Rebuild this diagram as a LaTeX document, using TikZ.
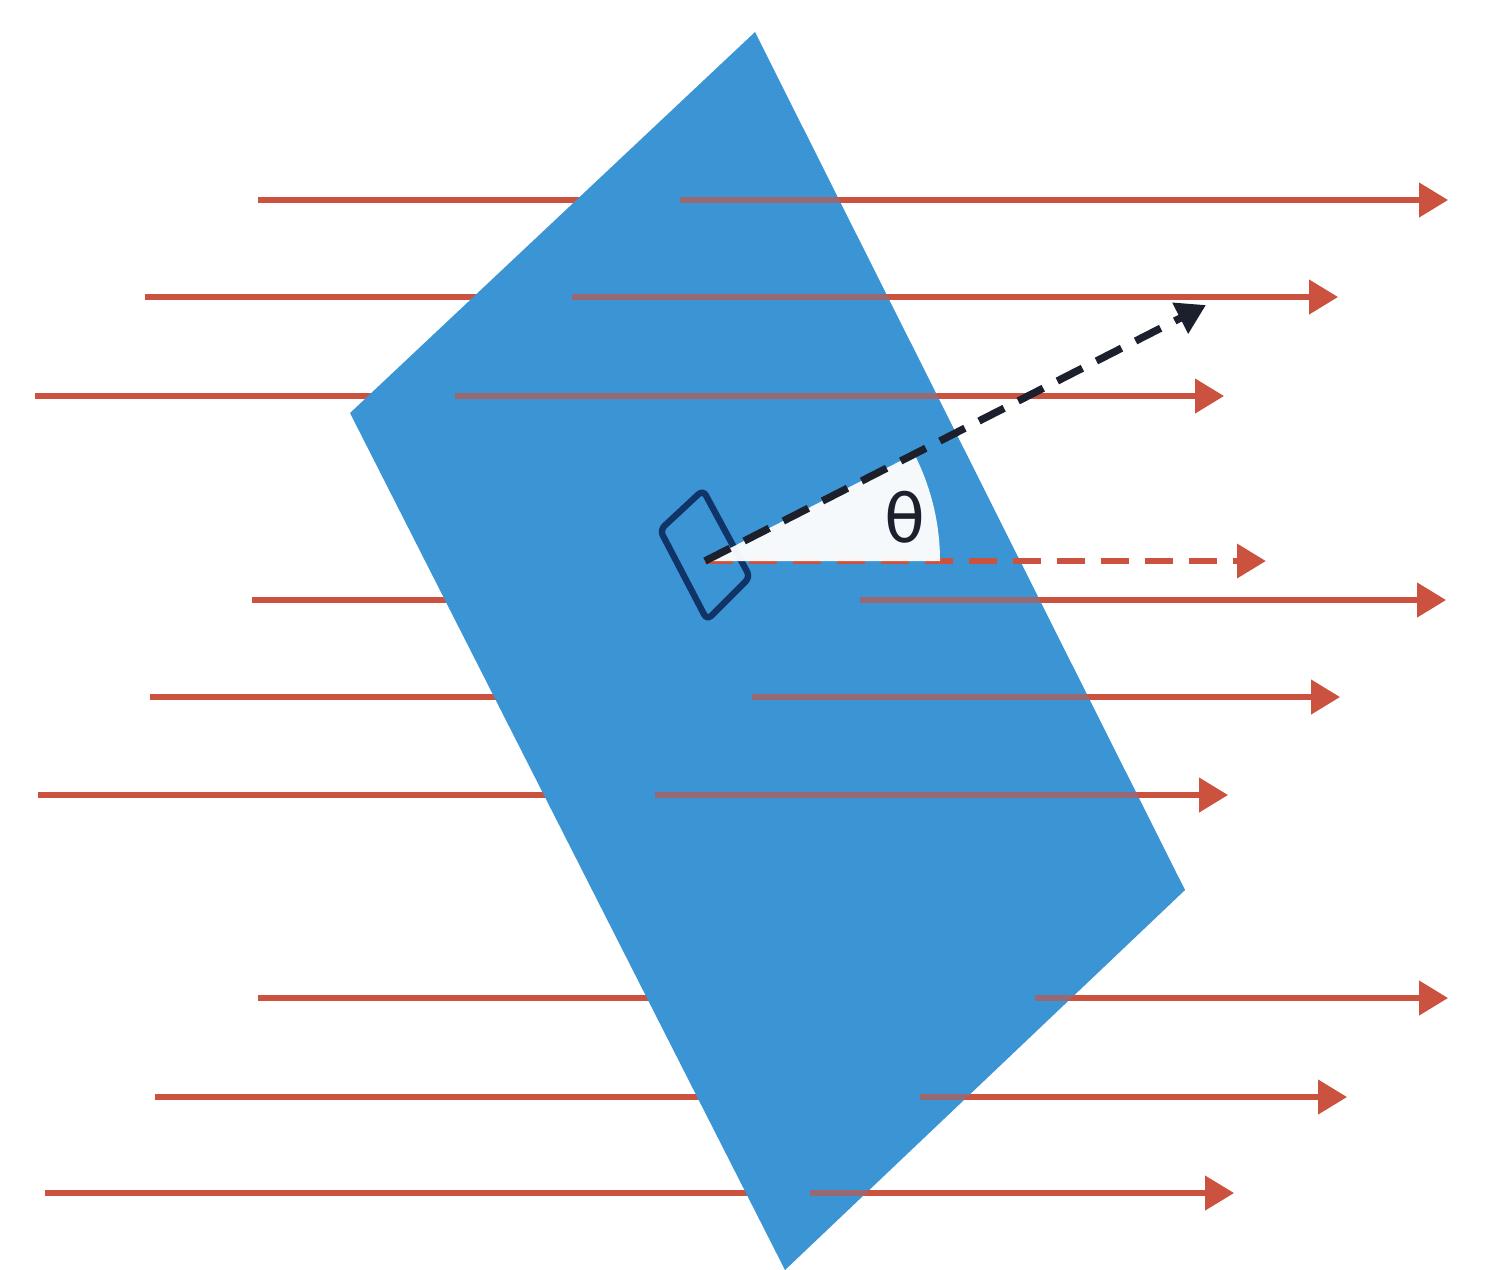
\documentclass[tikz,border=0pt]{standalone}
\usepackage{fontspec}
\newfontfamily\symfont{DejaVu Sans}
\usetikzlibrary{arrows.meta}
\definecolor{rayred}{RGB}{204,82,64}
\definecolor{planeblue}{RGB}{59,149,212}
\definecolor{sensornavy}{RGB}{16,52,104}
\definecolor{normaldark}{RGB}{28,32,44}
\begin{document}
\begin{tikzpicture}[
  x=0.01cm, y=-0.01cm,
  tip/.style={-{Triangle[length=0.29cm,width=0.33cm]}},
  ray/.style={draw=rayred, line width=1.9pt, tip},
  front/.style={draw=rayred, line width=1.9pt, opacity=0.65, tip},
  plane/.style={fill=planeblue},
  sensor/.style={draw=sensornavy, line width=1.8pt, rounded corners=0.06cm},
  normal/.style={draw=normaldark, line width=2.1pt, dash pattern=on 8pt off 4.5pt, tip},
  proj/.style={draw=rayred, line width=1.9pt, dash pattern=on 8pt off 4.5pt, tip},
  wedge/.style={fill=white, opacity=0.95}
]
\useasboundingbox (0,0) rectangle (1486,1269);

% rays behind the plane
\coordinate (r1s) at (258,200);  \coordinate (r1f) at (680,200);  \coordinate (r1e) at (1448,200);
\coordinate (r2s) at (145,297);  \coordinate (r2f) at (572,297);  \coordinate (r2e) at (1338,297);
\coordinate (r3s) at (35,396);   \coordinate (r3f) at (455,396);  \coordinate (r3e) at (1224,396);
\coordinate (r4s) at (252,600);  \coordinate (r4f) at (860,600);  \coordinate (r4e) at (1446,600);
\coordinate (r5s) at (150,697);  \coordinate (r5f) at (752,697);  \coordinate (r5e) at (1340,697);
\coordinate (r6s) at (38,795);   \coordinate (r6f) at (655,795);  \coordinate (r6e) at (1228,795);
\coordinate (r7s) at (258,998);  \coordinate (r7f) at (1035,998); \coordinate (r7e) at (1448,998);
\coordinate (r8s) at (155,1097); \coordinate (r8f) at (920,1097); \coordinate (r8e) at (1347,1097);
\coordinate (r9s) at (45,1193);  \coordinate (r9f) at (810,1193); \coordinate (r9e) at (1234,1193);

\draw[ray] (r1s) -- (r1e);
\draw[ray] (r2s) -- (r2e);
\draw[ray] (r3s) -- (r3e);
\draw[ray] (r4s) -- (r4e);
\draw[ray] (r5s) -- (r5e);
\draw[ray] (r6s) -- (r6e);
\draw[ray] (r7s) -- (r7e);
\draw[ray] (r8s) -- (r8e);
\draw[ray] (r9s) -- (r9e);

% the tilted plane
\coordinate (ptop) at (755,32);
\coordinate (pright) at (1185,890);
\coordinate (pbottom) at (785,1270);
\coordinate (pleft) at (350,413);
\fill[plane] (ptop) -- (pright) -- (pbottom) -- (pleft) -- cycle;

% rays in front of the plane
\draw[front] (r1f) -- (r1e);
\draw[front] (r2f) -- (r2e);
\draw[front] (r3f) -- (r3e);
\draw[front] (r4f) -- (r4e);
\draw[front] (r5f) -- (r5e);
\draw[front] (r6f) -- (r6e);
\draw[front] (r7f) -- (r7e);
\draw[front] (r8f) -- (r8e);
\draw[front] (r9f) -- (r9e);

% sensor patch
\coordinate (s1) at (660,530);
\coordinate (s2) at (703,490);
\coordinate (s3) at (750,577);
\coordinate (s4) at (707,620);
\draw[sensor] (s1) -- (s2) -- (s3) -- (s4) -- cycle;

% normal and projection
\coordinate (c) at (705,561);
\coordinate (ntip) at (1206,305);
\coordinate (ptip) at (1266,561);
\draw[proj] (c) -- (ptip);
\fill[wedge] (c) -- ++(235,0) arc[start angle=0, end angle=27.1, radius=2.35cm] -- cycle;
\draw[normal] (c) -- (ntip);
\node[font=\symfont\fontsize{19}{22}\selectfont, text=normaldark] (theta) at (905,517) {θ};
\end{tikzpicture}
\end{document}
